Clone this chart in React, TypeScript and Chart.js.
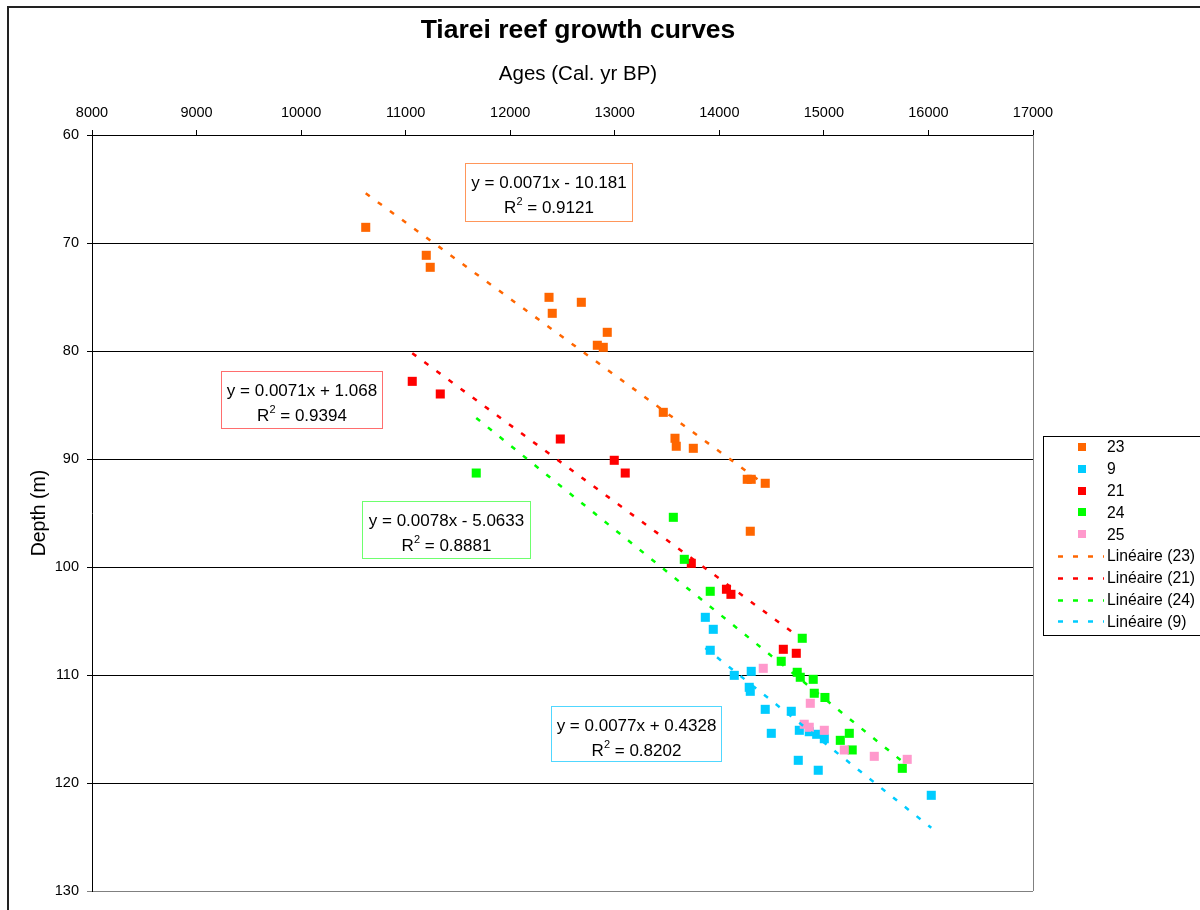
import React, { useEffect, useRef } from 'react';
import { Chart, registerables } from 'chart.js';

Chart.register(...registerables);

// ---- Data (Age in cal. yr BP, Depth in m) ----
const ages23 = [10618, 11197, 11235, 12371, 12402, 12680, 12928, 12833, 12890, 13464, 13576, 13588, 13751, 14267, 14305, 14439, 14296];
const depth23 = [68.55, 71.14, 72.25, 75.03, 76.51, 75.49, 78.27, 79.47, 79.66, 85.68, 88.08, 88.82, 89.01, 91.88, 91.88, 92.25, 96.69];

const ages9 = [13866, 13942, 13913, 14143, 14305, 14286, 14296, 14439, 14688, 14497, 14765, 14860, 14931, 15004, 14755, 14946, 16027];
const depth9 = [104.66, 105.77, 107.71, 110.03, 109.66, 111.14, 111.51, 113.18, 113.36, 115.4, 115.12, 115.25, 115.49, 115.9, 117.9, 118.82, 121.14];

const ages21 = [11063, 11331, 12479, 12995, 13100, 13732, 14068, 14111, 14612, 14736];
const depth21 = [82.81, 83.98, 88.15, 90.12, 91.3, 99.66, 102.06, 102.53, 107.62, 107.99];

const ages24 = [11675, 13560, 13665, 13913, 14793, 14592, 14745, 14774, 14898, 14908, 15010, 15243, 15157, 15271, 15750];
const depth24 = [91.3, 95.4, 99.29, 102.25, 106.6, 108.73, 109.75, 110.21, 110.4, 111.69, 112.08, 115.4, 116.05, 116.94, 118.64];

const ages25 = [14420, 14870, 14812, 14860, 15004, 15195, 15482, 15797];
const depth25 = [109.38, 112.62, 114.56, 114.84, 115.12, 116.94, 117.53, 117.81];

// Linear trendlines (end points)
const trendAges23 = [10618, 14439];
const trendDepth23 = [65.4, 92.4];
const trendAges21 = [11063, 14736];
const trendDepth21 = [80.2, 106.3];
const trendAges24 = [11675, 15750];
const trendDepth24 = [86.2, 118.0];
const trendAges9 = [13866, 16027];
const trendDepth9 = [107.5, 124.15];

// Trendline equation labels
const eqText23 = ['y = 0.0071x - 10.181', '0.9121'];
const eqText21 = ['y = 0.0071x + 1.068', '0.9394'];
const eqText24 = ['y = 0.0078x - 5.0633', '0.8881'];
const eqText9 = ['y = 0.0077x + 0.4328', '0.8202'];

// Axes
const AGE_MIN = 8000;
const AGE_MAX = 17000;
const AGE_STEP = 1000;
const DEPTH_MIN = 60;
const DEPTH_MAX = 130;
const DEPTH_STEP = 10;

const TITLE = 'Tiarei reef growth curves';
const X_TITLE = 'Ages (Cal. yr BP)';
const Y_TITLE = 'Depth (m)';

const seriesNames = ['23', '9', '21', '24', '25'];
const trendNames = ['Linéaire (23)', 'Linéaire (21)', 'Linéaire (24)', 'Linéaire (9)'];

const C_ORANGE = '#FF6600';
const C_CYAN = '#00CCFF';
const C_RED = '#FF0000';
const C_GREEN = '#00FF00';
const C_PINK = '#FF99CC';

const FONT = "'Liberation Sans', Arial, Helvetica, sans-serif";

const pts = (xs: number[], ys: number[]) => xs.map((x, i) => ({ x, y: ys[i] }));

const eqBoxes = [
  { text: eqText23, border: 'rgb(255,150,90)', left: 465.5, top: 163.5, w: 167, h: 58 },
  { text: eqText21, border: 'rgb(255,110,110)', left: 221.5, top: 371.5, w: 161, h: 57 },
  { text: eqText24, border: 'rgb(110,255,110)', left: 362.5, top: 501.5, w: 168, h: 57 },
  { text: eqText9, border: 'rgb(80,215,255)', left: 551.5, top: 706.5, w: 170, h: 55 },
];

const legendItems = [
  { label: seriesNames[0], color: C_ORANGE, kind: 'point' },
  { label: seriesNames[1], color: C_CYAN, kind: 'point' },
  { label: seriesNames[2], color: C_RED, kind: 'point' },
  { label: seriesNames[3], color: C_GREEN, kind: 'point' },
  { label: seriesNames[4], color: C_PINK, kind: 'point' },
  { label: trendNames[0], color: C_ORANGE, kind: 'line' },
  { label: trendNames[1], color: C_RED, kind: 'line' },
  { label: trendNames[2], color: C_GREEN, kind: 'line' },
  { label: trendNames[3], color: C_CYAN, kind: 'line' },
];

const decor = {
  id: 'decor',
  beforeDraw(chart: any) {
    const ctx = chart.ctx;
    ctx.save();
    ctx.fillStyle = '#fff';
    ctx.fillRect(0, 0, chart.width, chart.height);
    ctx.fillStyle = '#222';
    ctx.fillRect(7, 6, 2, chart.height);
    ctx.fillRect(7, 6, chart.width, 2);
    ctx.restore();
  },
  beforeDatasetsDraw(chart: any) {
    const ctx = chart.ctx;
    const a = chart.chartArea;
    ctx.save();
    ctx.strokeStyle = '#808080';
    ctx.lineWidth = 1;
    ctx.beginPath();
    ctx.moveTo(Math.round(a.right) + 0.5, a.top);
    ctx.lineTo(Math.round(a.right) + 0.5, a.bottom);
    ctx.stroke();
    ctx.restore();
  },
  afterDraw(chart: any) {
    const ctx = chart.ctx;
    ctx.save();
    ctx.fillStyle = '#000';
    ctx.textAlign = 'center';
    ctx.textBaseline = 'alphabetic';
    ctx.font = `bold 26.5px ${FONT}`;
    ctx.fillText(TITLE, 578, 38);
    ctx.font = `20.5px ${FONT}`;
    ctx.fillText(X_TITLE, 578, 80);
    ctx.save();
    ctx.font = `19.5px ${FONT}`;
    ctx.translate(45, 513);
    ctx.rotate(-Math.PI / 2);
    ctx.fillText(Y_TITLE, 0, 0);
    ctx.restore();

    // equation boxes
    const EQ = 17;
    for (const b of eqBoxes) {
      ctx.fillStyle = '#fff';
      ctx.fillRect(b.left, b.top, b.w, b.h);
      ctx.strokeStyle = b.border;
      ctx.lineWidth = 1;
      ctx.strokeRect(b.left, b.top, b.w, b.h);
      ctx.fillStyle = '#000';
      const cx = b.left + b.w / 2;
      ctx.font = `${EQ}px ${FONT}`;
      ctx.textAlign = 'center';
      ctx.fillText(b.text[0], cx, b.top + 24);
      // R² line
      const p1 = 'R';
      const p3 = ' = ' + b.text[1];
      ctx.font = `${EQ}px ${FONT}`;
      const w1 = ctx.measureText(p1).width;
      const w3 = ctx.measureText(p3).width;
      ctx.font = `11px ${FONT}`;
      const w2 = ctx.measureText('2').width;
      const total = w1 + w2 + w3;
      let x = cx - total / 2;
      const by = b.top + 49;
      ctx.textAlign = 'left';
      ctx.font = `${EQ}px ${FONT}`;
      ctx.fillText(p1, x, by);
      x += w1;
      ctx.font = `11px ${FONT}`;
      ctx.fillText('2', x, by - 7.5);
      x += w2;
      ctx.font = `${EQ}px ${FONT}`;
      ctx.fillText(p3, x, by);
    }

    // legend
    const lx = 1043.5, ly = 436.5, lw = 170, lh = 199;
    ctx.fillStyle = '#fff';
    ctx.fillRect(lx, ly, lw, lh);
    ctx.strokeStyle = '#000';
    ctx.lineWidth = 1;
    ctx.strokeRect(lx, ly, lw, lh);
    ctx.font = `15.7px ${FONT}`;
    ctx.textAlign = 'left';
    ctx.textBaseline = 'middle';
    legendItems.forEach((it, i) => {
      const y = 447 + i * 21.8;
      if (it.kind === 'point') {
        ctx.fillStyle = it.color;
        ctx.fillRect(1078, Math.round(y) - 4, 8, 8);
      } else {
        ctx.strokeStyle = it.color;
        ctx.lineWidth = 2.5;
        ctx.setLineDash([5, 10]);
        ctx.beginPath();
        ctx.moveTo(1058, Math.round(y) + 0.5);
        ctx.lineTo(1104, Math.round(y) + 0.5);
        ctx.stroke();
        ctx.setLineDash([]);
      }
      ctx.fillStyle = '#000';
      ctx.fillText(it.label, 1107, y + 1);
    });
    ctx.restore();
  },
};

const scatterDs = (label: string, xs: number[], ys: number[], color: string, order: number) => ({
  label,
  data: pts(xs, ys),
  showLine: false,
  pointStyle: 'rect',
  pointRadius: 6.4,
  pointHoverRadius: 6.4,
  pointBorderWidth: 0,
  backgroundColor: color,
  borderColor: color,
  order,
});

const trendDs = (label: string, xs: number[], ys: number[], color: string, order: number) => ({
  label,
  data: pts(xs, ys),
  showLine: true,
  pointRadius: 0,
  pointHoverRadius: 0,
  borderColor: color,
  backgroundColor: color,
  borderWidth: 2.5,
  borderDash: [5, 10],
  fill: false,
  order,
});

export default function App() {
  const ref = useRef<HTMLCanvasElement | null>(null);
  useEffect(() => {
    if (!ref.current) return;
    const chart = new Chart(ref.current, {
      type: 'scatter',
      data: {
        datasets: [
          scatterDs(seriesNames[0], ages23, depth23, C_ORANGE, 8),
          scatterDs(seriesNames[1], ages9, depth9, C_CYAN, 7),
          scatterDs(seriesNames[2], ages21, depth21, C_RED, 6),
          scatterDs(seriesNames[3], ages24, depth24, C_GREEN, 5),
          scatterDs(seriesNames[4], ages25, depth25, C_PINK, 4),
          trendDs(trendNames[0], trendAges23, trendDepth23, C_ORANGE, 0),
          trendDs(trendNames[1], trendAges21, trendDepth21, C_RED, 1),
          trendDs(trendNames[2], trendAges24, trendDepth24, C_GREEN, 2),
          trendDs(trendNames[3], trendAges9, trendDepth9, C_CYAN, 3),
        ] as any,
      },
      options: {
        responsive: false,
        animation: false,
        devicePixelRatio: 1,
        layout: { padding: { left: 0, top: 0, right: 167, bottom: 19 } },
        plugins: {
          legend: { display: false },
          title: { display: false },
          tooltip: { enabled: false },
        },
        scales: {
          x: {
            type: 'linear',
            position: 'top',
            min: AGE_MIN,
            max: AGE_MAX,
            ticks: {
              stepSize: AGE_STEP,
              color: '#000',
              font: { family: FONT, size: 14.5 },
              padding: 8,
              maxRotation: 0,
              callback: (v: any) => String(v),
            },
            grid: { drawOnChartArea: false, drawTicks: true, tickLength: 5, color: '#000' },
            border: { display: true, color: '#000', width: 1 },
            afterFit: (s: any) => { s.height = 135; },
          },
          y: {
            type: 'linear',
            reverse: true,
            min: DEPTH_MIN,
            max: DEPTH_MAX,
            ticks: {
              stepSize: DEPTH_STEP,
              color: '#000',
              font: { family: FONT, size: 14.5 },
              padding: 8,
              callback: (v: any) => String(v),
            },
            grid: {
              drawOnChartArea: true,
              drawTicks: true,
              tickLength: 5,
              color: (c: any) => (c.tick && c.tick.value === DEPTH_MAX ? '#808080' : '#000'),
            },
            border: { display: true, color: '#000', width: 1 },
            afterFit: (s: any) => { s.width = 92; },
          },
        },
      } as any,
      plugins: [decor],
    });
    return () => chart.destroy();
  }, []);
  return (
    <div style={{ position: 'absolute', left: 0, top: 0, width: 1200, height: 910, background: '#fff' }}>
      <canvas ref={ref} width={1200} height={910} style={{ display: 'block', width: 1200, height: 910 }} />
    </div>
  );
}
